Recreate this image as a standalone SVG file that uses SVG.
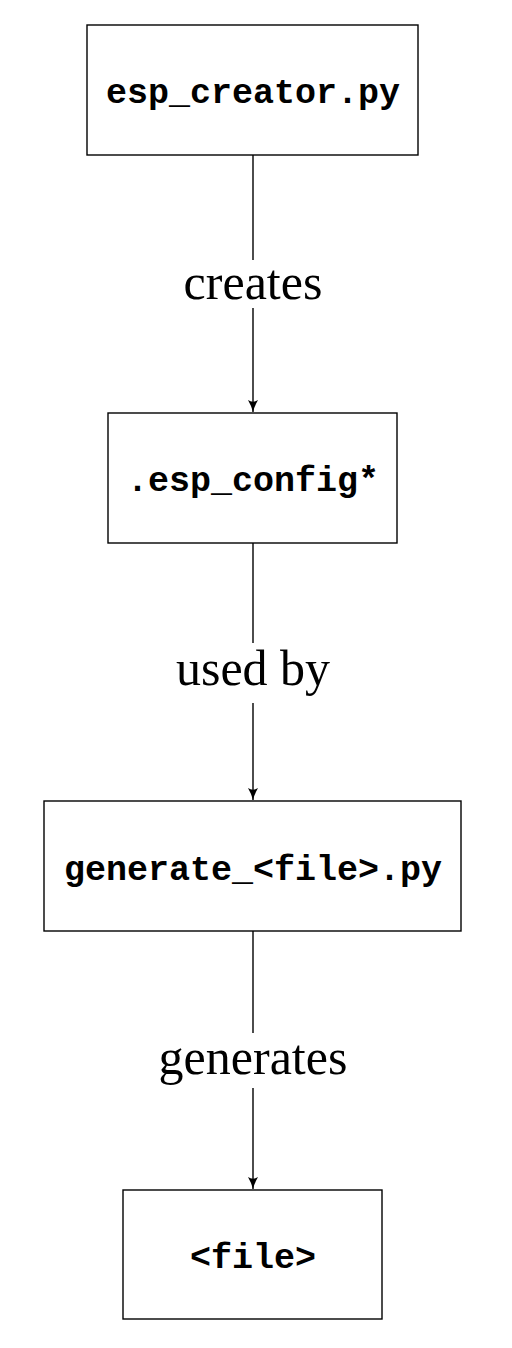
<svg xmlns="http://www.w3.org/2000/svg" width="512" height="1348" viewBox="0 0 512 1348">
<style>
.box{fill:#fff;stroke:#000;stroke-width:1.4}
.code{font-family:"Liberation Mono","DejaVu Sans Mono",monospace;font-weight:bold;font-size:35px;text-anchor:middle;fill:#000}
.lbl{font-family:"Liberation Serif","DejaVu Serif",serif;font-size:50px;text-anchor:middle;fill:#000}
.edge{stroke:#000;stroke-width:1.4;fill:none}
</style>
<defs>
<marker id="arr" markerWidth="14" markerHeight="12" refX="12" refY="6" orient="auto" markerUnits="userSpaceOnUse">
<path d="M0,1 Q6,4.5 12,6 Q6,7.5 0,11 Q3.5,6 0,1 Z" fill="#000"/>
</marker>
</defs>
<rect width="512" height="1348" fill="#fff"/>
<g id="connectors">
<g id="e1">
<line class="edge" x1="253" y1="155" x2="253" y2="260"/>
<line class="edge" x1="253" y1="308" x2="253" y2="412" marker-end="url(#arr)"/>
<text class="lbl" x="253" y="299">creates</text>
</g>
<g id="e2">
<line class="edge" x1="253" y1="543" x2="253" y2="643"/>
<line class="edge" x1="253" y1="703" x2="253" y2="800" marker-end="url(#arr)"/>
<text class="lbl" x="253" y="685">used by</text>
</g>
<g id="e3">
<line class="edge" x1="253" y1="931" x2="253" y2="1033"/>
<line class="edge" x1="253" y1="1088" x2="253" y2="1189" marker-end="url(#arr)"/>
<text class="lbl" x="253" y="1074">generates</text>
</g>
</g>
<g id="n1">
<rect class="box" x="87" y="25" width="331" height="130"/>
<text class="code" x="253" y="103">esp_creator.py</text>
</g>
<g id="n2">
<rect class="box" x="108" y="413" width="289" height="130"/>
<text class="code" x="253" y="491">.esp_config*</text>
</g>
<g id="n3">
<rect class="box" x="44" y="801" width="417" height="130"/>
<text class="code" x="253" y="880">generate_&lt;file&gt;.py</text>
</g>
<g id="n4">
<rect class="box" x="123" y="1190" width="259" height="129"/>
<text class="code" x="253" y="1268">&lt;file&gt;</text>
</g>
</svg>
